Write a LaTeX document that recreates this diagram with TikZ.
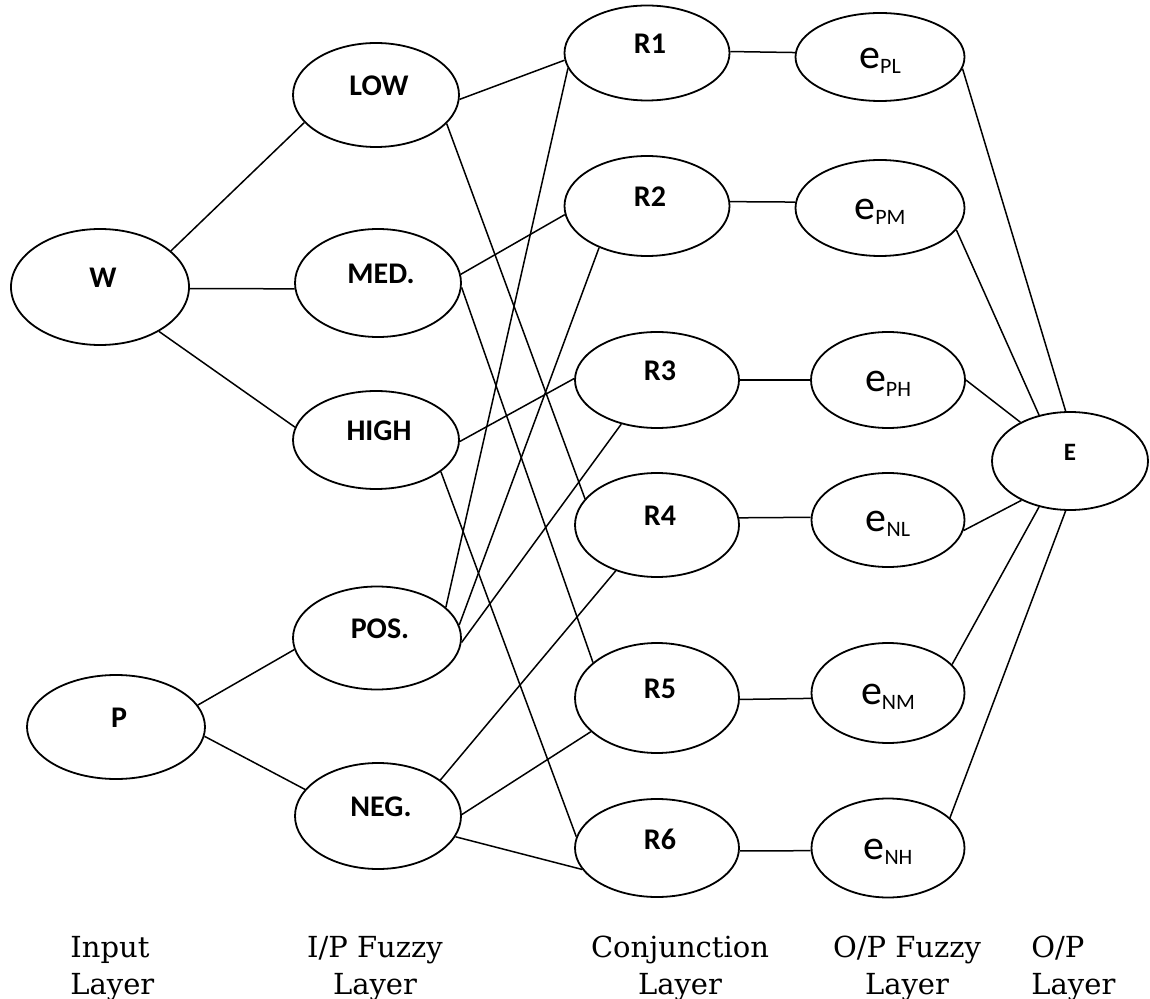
\documentclass[tikz,border=0pt]{standalone}
\usepackage{fontspec}
\newfontfamily\calibri{Carlito}
\newfontfamily\layerfont{DejaVu Serif}
\usetikzlibrary{shapes.geometric}
\newcommand\esub[1]{e\raisebox{-2.7pt}{\fontsize{11}{13}\selectfont #1}}

\begin{document}
\begin{tikzpicture}[
      x=0.5pt, y=-0.5pt,
      unit/.style 2 args={draw,ellipse,line width=0.9pt,inner sep=0pt,minimum width=#1,minimum height=#2},
      boldlab/.style={font=\calibri\bfseries\fontsize{15}{18}\selectfont,xshift=1.5pt,yshift=4.5pt},
      elab/.style={font=\calibri\fontsize{21}{24}\selectfont,yshift=-2pt},
      tag/.style={label={[boldlab]center:#1}},
      etag/.style={label={[elab]center:\esub{#1}}},
      link/.style={line width=0.75pt},
      layer/.style={font=\layerfont\fontsize{14.5}{18.5}\selectfont,inner sep=0pt}
    ]
      \useasboundingbox (0,0) rectangle (1150,999);

      \node[unit={89pt}{58pt},tag={W}] (W) at (100,287) {};
      \node[unit={89pt}{52pt},tag={P}] (P) at (116,727) {};

      \node[unit={83pt}{52pt},tag={LOW}] (LOW) at (376,95) {};
      \node[unit={83pt}{54pt},tag={MED.}] (MED) at (378,283) {};
      \node[unit={83pt}{49pt},tag={HIGH}] (HIGH) at (376,440) {};
      \node[unit={84pt}{51.5pt},tag={POS.}] (POS) at (377,638) {};
      \node[unit={83pt}{53pt},tag={NEG.}] (NEG) at (378,816) {};

      \node[unit={82.5pt}{47.5pt},tag={R1}] (R1) at (647,53) {};
      \node[unit={82.5pt}{50pt},tag={R2}] (R2) at (647,206) {};
      \node[unit={82pt}{48pt},tag={R3}] (R3) at (657,380) {};
      \node[unit={82pt}{52pt},tag={R4}] (R4) at (657,525) {};
      \node[unit={82pt}{55pt},tag={R5}] (R5) at (657,698) {};
      \node[unit={82pt}{49pt},tag={R6}] (R6) at (657,848) {};

      \node[unit={84.5pt}{44pt},etag={PL}] (ePL) at (880,57) {};
      \node[unit={84.5pt}{48pt},etag={PM}] (ePM) at (880,208) {};
      \node[unit={77pt}{48pt},etag={PH}] (ePH) at (888,380) {};
      \node[unit={76.5pt}{47pt},etag={NL}] (eNL) at (888,520) {};
      \node[unit={76.5pt}{50pt},etag={NM}] (eNM) at (888,693) {};
      \node[unit={76.5pt}{49.5pt},etag={NH}] (eNH) at (888,848) {};

      \node[unit={78pt}{49pt},label={[boldlab,font=\calibri\bfseries\fontsize{12.5}{15}\selectfont,xshift=-1.5pt]center:E}] (E) at (1070,461) {};

      \draw[link] (W.27)--(LOW.201);
      \draw[link] (W.-1)--(MED.184);
      \draw[link] (W.-37)--(HIGH.171);
      \draw[link] (P.15)--(POS.188);
      \draw[link] (P.-6)--(NEG.160);

      \draw[link] (LOW.-3)--(R1.185);
      \draw[link] (LOW.-22)--(R4.160);
      \draw[link] (MED.6)--(R2.186);
      \draw[link] (MED.-3)--(R5.151);
      \draw[link] (HIGH.-1)--(R3.179);
      \draw[link] (HIGH.-26)--(R6.172);
      \draw[link] (POS.24)--(R1.191);
      \draw[link] (POS.9)--(R2.221);
      \draw[link] (POS.-3)--(R3.231);
      \draw[link] (NEG.30)--(R4.228);
      \draw[link] (NEG.1)--(R5.207);
      \draw[link] (NEG.-15)--(R6.196);

      \draw[link] (R1.1)--(ePL.177);
      \draw[link] (R2.3)--(ePM.176);
      \draw[link] (R3.0)--(ePH.180);
      \draw[link] (R4.5)--(eNL.178);
      \draw[link] (R5.-1)--(eNM.184);
      \draw[link] (R6.-2)--(eNH.182);

      \draw[link] (ePL.-8)--(E.95);
      \draw[link] (ePM.-16)--(E.124);
      \draw[link] (ePH.0)--(E.142);
      \draw[link] (eNL.-8)--(E.219);
      \draw[link] (eNM.24)--(E.236);
      \draw[link] (eNH.26)--(E.265);

      \node[layer,align=left,anchor=base west] (inlay) at (70,994) {Input\\Layer};
      \node[layer,align=center,anchor=base] (iplay) at (375,994) {I/P Fuzzy\\Layer};
      \node[layer,align=center,anchor=base] (conjlay) at (680,994) {Conjunction\\Layer};
      \node[layer,align=center,anchor=base] (opfzlay) at (907,994) {O/P Fuzzy\\Layer};
      \node[layer,align=left,anchor=base west] (oplay) at (1031,994) {O/P\\Layer};
    \end{tikzpicture}
\end{document}
